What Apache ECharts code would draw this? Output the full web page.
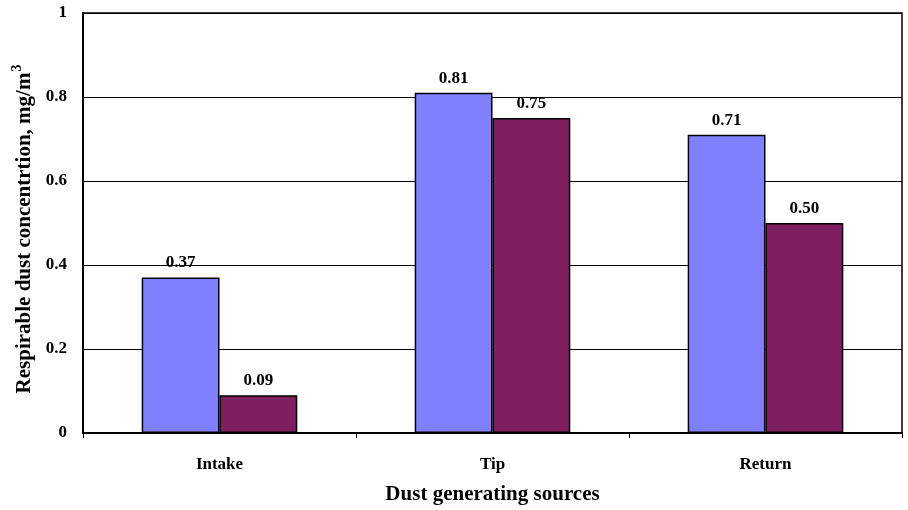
<!DOCTYPE html>
<html><head><meta charset="utf-8">
<script src="https://cdn.jsdelivr.net/npm/echarts@6/dist/echarts.min.js"></script>
<style>html,body{margin:0;padding:0;background:#fff}#c{width:908px;height:510px}</style>
</head><body><div id="c"></div>
<script>
const categories = ['Intake', 'Tip', 'Return'];
const seriesA = [0.37, 0.81, 0.71];
const seriesB = [0.09, 0.75, 0.50];
const yTicks = [0, 0.2, 0.4, 0.6, 0.8, 1];

const font = 'Liberation Serif';
const chart = echarts.init(document.getElementById('c'));
const labelCfg = {
  show: true, position: 'top', distance: 6,
  fontFamily: font, fontWeight: 'bold', fontSize: 17, color: '#000',
  formatter: p => p.value.toFixed(2)
};
chart.setOption({
  animation: false,
  grid: { left: 83, right: 6, top: 13, bottom: 77, containLabel: false, outerBoundsMode: 'none',
    show: true, borderColor: '#000', borderWidth: 1.5 },
  xAxis: {
    type: 'category', data: categories,
    axisLine: { lineStyle: { color: '#000', width: 2 } },
    axisTick: { show: true, alignWithLabel: false, length: 5, lineStyle: { color: '#000', width: 1 } },
    axisLabel: { fontFamily: font, fontWeight: 'bold', fontSize: 17, color: '#000', margin: 23 },
    name: 'Dust generating sources', nameLocation: 'middle', nameGap: 51,
    nameTextStyle: { fontFamily: font, fontWeight: 'bold', fontSize: 21, color: '#000' }
  },
  yAxis: {
    type: 'value', min: 0, max: 1, interval: 0.2,
    axisLine: { show: true, lineStyle: { color: '#000', width: 2 } },
    axisTick: { show: false },
    splitLine: { show: true, lineStyle: { color: '#000', width: 1.2 } },
    axisLabel: { fontFamily: font, fontWeight: 'bold', fontSize: 17, color: '#000', margin: 16,
      formatter: v => yTicks.includes(+v.toFixed(1)) ? String(+v.toFixed(1)) : '' },
    name: '{t|Respirable dust concentrtion, mg/m}{s|3}', nameLocation: 'middle', nameGap: 42,
    nameTextStyle: {
      padding: [0, 12, 0, 0],
      rich: {
        t: { fontFamily: font, fontWeight: 'bold', fontSize: 21, color: '#000' },
        s: { fontFamily: font, fontWeight: 'bold', fontSize: 14, color: '#000', verticalAlign: 'top', padding: [0, 0, 14, 1] }
      }
    }
  },
  series: [
    { type: 'bar', data: seriesA, barGap: '0%', barCategoryGap: '43%',
      itemStyle: { color: '#8080FF', borderColor: '#000', borderWidth: 1.5 }, label: labelCfg },
    { type: 'bar', data: seriesB, barGap: '0%', barCategoryGap: '43%',
      itemStyle: { color: '#7F1F5F', borderColor: '#000', borderWidth: 1.5 }, label: labelCfg }
  ]
});
</script></body></html>
